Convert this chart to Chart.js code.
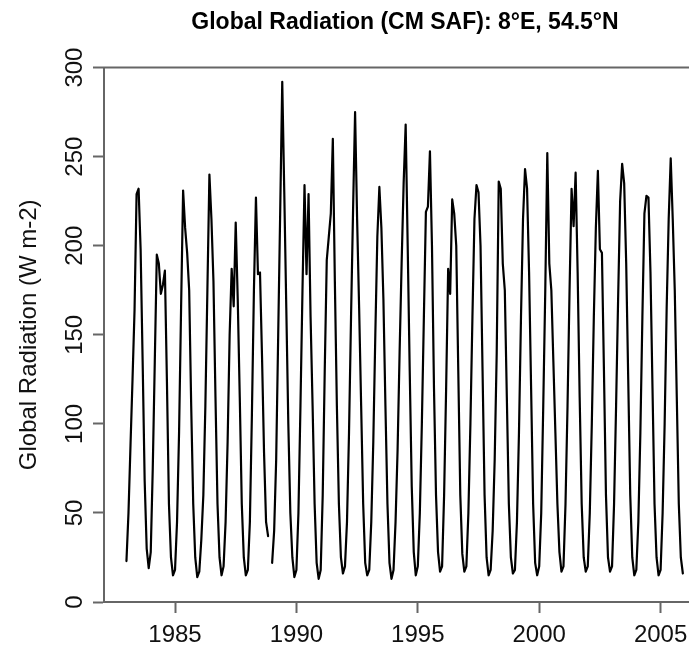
<!DOCTYPE html>
<html>
<head>
<meta charset="utf-8">
<title>Global Radiation (CM SAF)</title>
<script src="https://cdn.jsdelivr.net/npm/chart.js@4.4.1/dist/chart.umd.min.js"></script>
<style>
    html, body { margin: 0; padding: 0; overflow: hidden; background: #fff; }
    canvas { display: block; }
</style>
</head>
<body>
<canvas id="chart" width="720" height="646"></canvas>
<script>
// monthly means, Jan..Dec (W m-2); null = missing month
const firstYear = 1983;
const r1983 = [23, 50, 88, 125, 164, 229, 232, 198, 135, 68, 30, 19];
const r1984 = [28, 75, 135, 195, 190, 173, 178, 186, 124, 55, 25, 15];
const r1985 = [18, 45, 95, 165, 231, 210, 196, 175, 110, 55, 25, 14];
const r1986 = [17, 35, 60, 110, 175, 240, 215, 180, 115, 55, 25, 15];
const r1987 = [20, 45, 90, 150, 187, 166, 213, 170, 115, 55, 25, 15];
const r1988 = [18, 45, 105, 175, 227, 184, 185, 138, 84, 45, 37, null];
const r1989 = [22, 40, 80, 150, 220, 292, 230, 165, 100, 50, 25, 14];
const r1990 = [18, 50, 110, 175, 234, 184, 229, 160, 110, 55, 22, 13];
const r1991 = [18, 60, 130, 192, 205, 218, 260, 180, 110, 55, 25, 16];
const r1992 = [20, 45, 95, 160, 220, 275, 215, 165, 110, 55, 22, 15];
const r1993 = [18, 45, 90, 150, 205, 233, 210, 170, 110, 55, 22, 13];
const r1994 = [18, 45, 85, 140, 190, 235, 268, 200, 130, 65, 28, 15];
const r1995 = [20, 50, 100, 160, 219, 222, 253, 200, 120, 60, 28, 17];
const r1996 = [20, 60, 120, 187, 173, 226, 218, 200, 130, 60, 27, 17];
const r1997 = [20, 50, 100, 160, 215, 234, 230, 200, 130, 60, 25, 15];
const r1998 = [18, 40, 80, 140, 236, 232, 190, 175, 115, 55, 25, 16];
const r1999 = [18, 45, 95, 160, 215, 243, 232, 185, 120, 55, 22, 15];
const r2000 = [20, 50, 110, 175, 252, 190, 175, 135, 95, 55, 28, 17];
const r2001 = [20, 55, 110, 175, 232, 211, 241, 185, 115, 55, 25, 17];
const r2002 = [20, 50, 100, 160, 210, 242, 198, 196, 130, 60, 25, 17];
const r2003 = [20, 55, 110, 170, 225, 246, 235, 190, 125, 60, 25, 15];
const r2004 = [18, 45, 95, 160, 218, 228, 227, 185, 120, 55, 25, 15];
const r2005 = [18, 50, 100, 165, 215, 249, 215, 175, 115, 55, 25, 16];

const yearly = [r1983, r1984, r1985, r1986, r1987, r1988, r1989, r1990,
    r1991, r1992, r1993, r1994, r1995, r1996, r1997, r1998, r1999,
    r2000, r2001, r2002, r2003, r2004, r2005];

// fractional year for each month
const points = [];
yearly.forEach((months, i) => {
    months.forEach((v, m) => {
        points.push({ x: firstYear + i + m / 12, y: v });
    });
});

const axisColor = "#666";
const textColor = "#111";
const fontFamily = "'Liberation Sans', Arial, Helvetica, sans-serif";
Chart.defaults.font.family = fontFamily;

// R style: box top side and y labels written along the axis
const rStyle = {
    id: "rStyle",
    afterDraw(chart) {
        const { ctx, chartArea } = chart;
        const yScale = chart.scales.y;
        ctx.save();
        ctx.strokeStyle = axisColor;
        ctx.lineWidth = 2;
        ctx.beginPath();
        ctx.moveTo(chartArea.left - 1, chartArea.top);
        ctx.lineTo(chartArea.right, chartArea.top);
        ctx.stroke();

        ctx.fillStyle = textColor;
        ctx.font = "24px " + fontFamily;
        ctx.textAlign = "center";
        ctx.textBaseline = "alphabetic";
        const baseX = yScale.right - 11 - 11;
        yScale.ticks.forEach((t) => {
            const py = yScale.getPixelForValue(t.value);
            ctx.save();
            ctx.translate(baseX, py);
            ctx.rotate(-Math.PI / 2);
            ctx.fillText(String(t.value), 0, 0);
            ctx.restore();
        });
        ctx.restore();
    }
};

new Chart(document.getElementById("chart"), {
    type: "line",
    data: {
        datasets: [
            {
                label: "Global Radiation",
                data: points,
                borderColor: "#000",
                borderWidth: 2.2,
                borderJoinStyle: "round",
                borderCapStyle: "round",
                pointRadius: 0,
                tension: 0,
                spanGaps: false
            }
        ]
    },
    options: {
        responsive: false,
        animation: false,
        layout: { padding: { left: 0, right: 14, top: 0, bottom: 0 } },
        plugins: {
            legend: { display: false },
            tooltip: { enabled: false },
            title: {
                display: true,
                fullSize: false,
                text: "Global Radiation (CM SAF): 8°E, 54.5°N",
                color: "#000",
                font: { size: 23, weight: "bold" },
                padding: { top: 9, bottom: 31 }
            }
        },
        scales: {
            x: {
                type: "linear",
                min: 1982.075,
                max: 2006.87,
                afterFit: (s) => { s.height = 44; },
                border: { color: axisColor, width: 2 },
                grid: {
                    drawOnChartArea: false,
                    tickLength: 11,
                    tickColor: axisColor,
                    tickWidth: 2
                },
                ticks: {
                    stepSize: 5,
                    includeBounds: false,
                    autoSkip: false,
                    maxRotation: 0,
                    padding: 8,
                    color: textColor,
                    font: { size: 24 },
                    callback: (v) => String(v)
                }
            },
            y: {
                min: 0,
                max: 300,
                afterFit: (s) => { s.width = 104; },
                border: { color: axisColor, width: 2 },
                grid: {
                    drawOnChartArea: false,
                    tickLength: 11,
                    tickColor: axisColor,
                    tickWidth: 2
                },
                ticks: { stepSize: 50, display: false },
                title: {
                    display: true,
                    text: "Global Radiation (W m-2)",
                    color: textColor,
                    font: { size: 24 },
                    padding: { top: 15, bottom: 0 }
                }
            }
        }
    },
    plugins: [rStyle]
});
</script>
</body>
</html>
